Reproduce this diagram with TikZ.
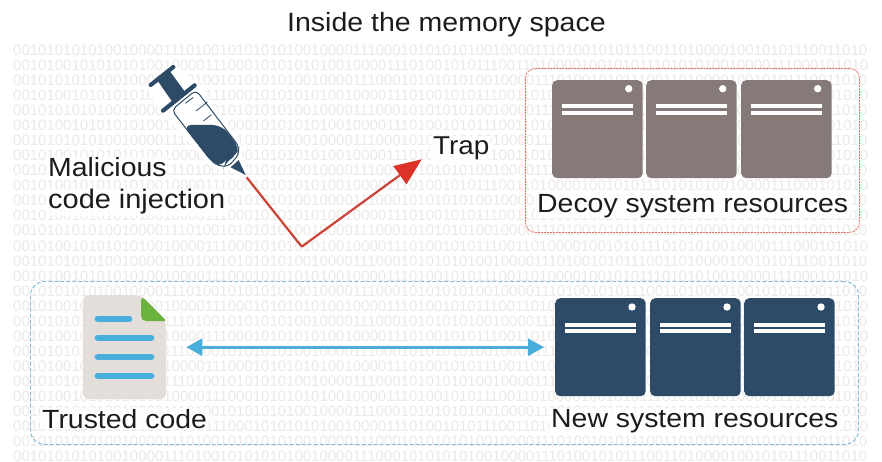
\documentclass[tikz,border=0pt]{standalone}
\usepackage{fontspec}
\setmainfont[FakeStretch=1.08]{Liberation Sans}
\newfontfamily\bitsfont{Liberation Sans}
\usetikzlibrary{arrows.meta}
\definecolor{bitgray}{HTML}{ECE9E7}
\definecolor{inkdark}{HTML}{1C1C1C}
\definecolor{decoygray}{HTML}{857A78}
\definecolor{navy}{HTML}{2D4A66}
\definecolor{skyblue}{HTML}{4AAEDC}
\definecolor{leafgreen}{HTML}{6AB23C}
\definecolor{paper}{HTML}{E3DEDA}
\definecolor{redtip}{HTML}{DC3328}
\definecolor{redline}{HTML}{CC4338}
\definecolor{reddash}{HTML}{E0705C}
\definecolor{bluedash}{HTML}{7DBBD8}
\newcommand{\rowA}{00101010101001000011101001010101010010000111000101010101001000011101001010111001101000010010101110011010}
\newcommand{\rowB}{00101001010101010010000111000101010101001000011101001010111001101000010010101110101010010000111000101010}
\tikzset{
  bitrow/.style={anchor=base west,inner sep=0pt,text=bitgray,font=\bitsfont\fontsize{15}{15}\selectfont},
  textlabel/.style={anchor=base west,inner xsep=2pt,inner ysep=1pt,text=inkdark,fill=white,fill opacity=.82,text opacity=1,font=\fontsize{26.3}{30}\selectfont},
  server/.style={anchor=north west,inner sep=0pt,minimum width=90.5pt,minimum height=98pt,rounded corners=5pt,fill=#1},
  serverbar/.style={draw=white,line width=4pt},
  serverdot/.style={fill=white},
  docline/.style={draw=skyblue,line width=6.8pt,line cap=round},
}
\begin{document}
\begin{tikzpicture}[x=1pt,y=-1pt]
\useasboundingbox (0,0) rectangle (882,462);
\fill[white] (0,0) rectangle (882,462);
% binary background
\foreach \i in {0,...,27}{
  \pgfmathsetmacro{\yy}{55.5+15.04*\i}
  \pgfmathtruncatemacro{\isb}{(mod(\i,2)==1 && \i<27) ? 1 : 0}
  \ifnum\isb=1
    \node[bitrow] (bits\i) at (13,\yy) {\rowB};
  \else
    \node[bitrow] (bits\i) at (13,\yy) {\rowA};
  \fi
}
% dashed frames
\node[anchor=north west,inner sep=0pt,minimum width=334pt,minimum height=164pt,rounded corners=10pt,draw=reddash,line width=.8pt,dash pattern=on 2pt off 1pt] (decoyframe) at (525,68) {};
\node[anchor=north west,inner sep=0pt,minimum width=828pt,minimum height=163pt,rounded corners=14pt,draw=bluedash,line width=.9pt,dash pattern=on 4pt off 2pt] (trustframe) at (30,281) {};
% decoy servers
\foreach \n/\x in {1/552,2/646,3/741}{
  \node[server=decoygray] (decoy\n) at (\x,80) {};
  \draw[serverbar] (\x+10,106) -- (\x+80.5,106) (\x+10,112.7) -- (\x+80.5,112.7);
  \fill[serverdot] (\x+76.7,88.7) circle (3.7);
}
% new servers
\foreach \n/\x in {1/555,2/650,3/744}{
  \node[server=navy] (new\n) at (\x,298) {};
  \draw[serverbar] (\x+10,324.5) -- (\x+81,324.5) (\x+10,331) -- (\x+81,331);
  \fill[serverdot] (\x+77,307) circle (3.7);
}
% document
\node[anchor=north west,inner sep=0pt,minimum width=83pt,minimum height=104pt,fill=none] (doc) at (83,295) {};
\fill[paper,rounded corners=6pt] (83,295) -- (141,295) -- (166,321) -- (166,399) -- (83,399) -- cycle;
\fill[leafgreen,rounded corners=1.5pt] (141,295.5) -- (166.5,321) -- (148,321) [rounded corners=5pt] -- (141,321) -- cycle;
\draw[docline] (98,319) -- (129,319);
\draw[docline] (98,338) -- (151,338);
\draw[docline] (98,357) -- (151,357);
\draw[docline] (98,376) -- (151,376);
\draw[{Stealth[length=16pt,width=17pt,inset=0pt]}-{Stealth[length=16pt,width=17pt,inset=0pt]},draw=skyblue,fill=skyblue,line width=2.8pt,shorten <=20pt,shorten >=11pt] (doc.east) -- (new1.west);
% syringe (coordinates as read at 3x)
\begin{scope}[shift={(0,40)},x=.33333pt,y=-.33333pt]
  \fill[white,rounded corners=6pt] (440,135) -- (520,70) -- (600,135) -- (730,320) -- (725,345) -- (745,405) -- (725,410) -- (690,390) -- (640,385) -- (480,215) -- cycle;
  \draw[navy,line width=4.2pt,line cap=round] (452,135) -- (520,81);
  \draw[navy,line width=4.2pt,line cap=round] (489,212) -- (584,136);
  \fill[navy] (470,118) -- (507,90) -- (558,160) -- (520,190) -- cycle;
  \fill[navy] (692,382) -- (716,360) -- (737,405) -- cycle;
  \draw[navy,line width=1pt,fill=white,rounded corners=5pt] (515,210) -- (588,150) -- (716,318) -- (716,345) -- (684,380) -- (650,376) -- (630,358) -- cycle;
  \fill[navy,rounded corners=9pt] (548,255) -- (665,255) -- (718,322) -- (714,345) -- (678,362) -- (672,380) -- (640,372) -- cycle;
  \draw[navy,line width=.8pt] (556,190) -- (580,172) (588,213) -- (622,186) (610,243) -- (634,224);
  \coordinate (needletip) at (740,412);
\end{scope}
% red trap arrow
\coordinate (bend) at (301.7,246.7);
\coordinate (trapin) at (421.7,159.3);
\draw[redline,line width=2.2pt,line join=miter] (needletip) -- (bend);
\draw[redline,line width=2.2pt,-{Stealth[length=27pt,width=22pt,inset=0pt,color=redtip,fill=redtip]}] (bend) -- (trapin);
% labels
\node[anchor=base west,inner sep=0pt,text=inkdark,font=\fontsize{26.4}{30}\selectfont] (title) at (287,32) {Inside the memory space};
\node[textlabel] (malicious) at (46,177) {Malicious};
\node[textlabel,font=\fontsize{26.8}{30}\selectfont] (codeinj) at (46,209) {code injection};
\node[textlabel,font=\fontsize{25.8}{30}\selectfont] (trap) at (431,155) {Trap};
\node[textlabel] (decoylabel) at (535,212) {Decoy system resources};
\node[textlabel] (trusted) at (40,428) {Trusted code};
\node[textlabel] (newlabel) at (549,427) {New system resources};
\end{tikzpicture}
\end{document}
